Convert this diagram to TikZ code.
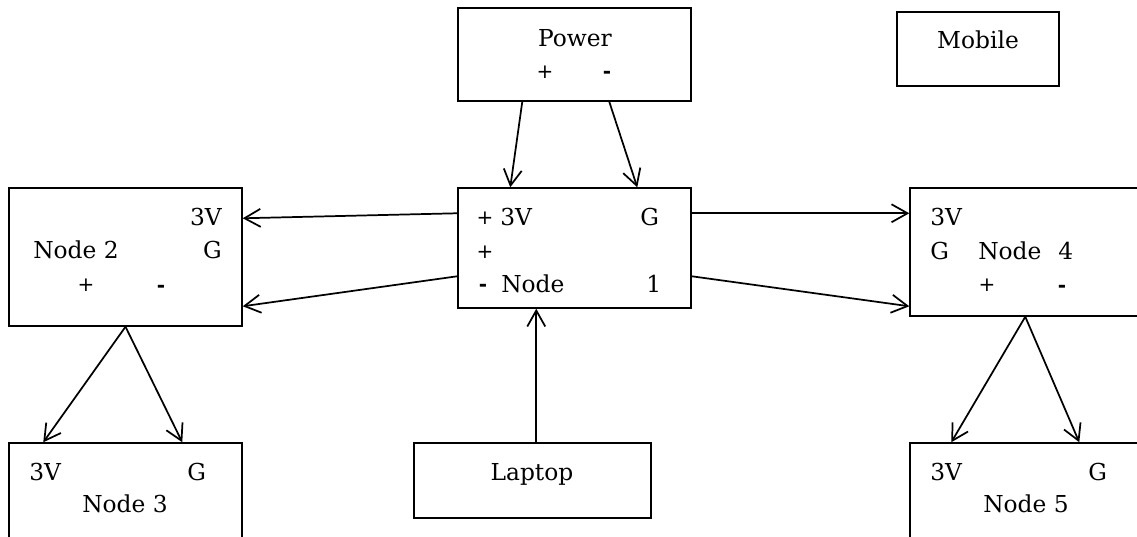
\documentclass[tikz,border=0pt]{standalone}
\usepackage{fontspec}
\setmainfont{DejaVu Serif}
\newfontfamily\pmfont{DejaVu Sans}
\usetikzlibrary{arrows.meta,fit,calc}
\tikzset{
  box/.style={draw, line width=1.1pt, inner sep=0pt},
  lbl/.style={inner sep=0pt, font=\fontsize{17.5}{21}\selectfont},
  pm/.style={inner sep=0pt, anchor=mid, font=\pmfont\fontsize{15}{18}\selectfont},
  mn/.style={inner sep=0pt, anchor=mid, font=\pmfont\bfseries\fontsize{15}{18}\selectfont},
  conn/.style={line width=1.3pt, -{Straight Barb[length=12pt,width=13.5pt,line width=1.3pt]}}
}
\begin{document}
\begin{tikzpicture}[x=0.75pt,y=-0.75pt]
\useasboundingbox (0,0) rectangle (1137,536);
% boxes
\coordinate (a1) at (458,8);   \coordinate (a2) at (691,101);
\coordinate (b1) at (897,12);  \coordinate (b2) at (1059,86);
\coordinate (c1) at (458,188); \coordinate (c2) at (691,308);
\coordinate (d1) at (9,188);   \coordinate (d2) at (242,326);
\coordinate (e1) at (910,188); \coordinate (e2) at (1150,316);
\coordinate (f1) at (9,443);   \coordinate (f2) at (242,550);
\coordinate (g1) at (910,443); \coordinate (g2) at (1150,550);
\coordinate (h1) at (414,443); \coordinate (h2) at (651,518);
\node[box, fit=(a1)(a2)] (power) {};
\node[box, fit=(b1)(b2)] (mobile) {};
\node[box, fit=(c1)(c2)] (n1) {};
\node[box, fit=(d1)(d2)] (n2) {};
\node[box, fit=(e1)(e2)] (n4) {};
\node[box, fit=(f1)(f2)] (n3) {};
\node[box, fit=(g1)(g2)] (n5) {};
\node[box, fit=(h1)(h2)] (laptop) {};
% texts
\node[lbl,anchor=base] (tpow) at (575,46) {Power};
\node[pm] (pp) at (545,75) {+};
\node[mn] (pmn) at (607,75) {-};
\node[lbl,anchor=base] (tmob) at (978,48) {Mobile};

\node[pm] (n1p1) at (485,221) {+};
\node[lbl,anchor=base west] (n1v) at (500,225) {3V};
\node[lbl,anchor=base west] (n1g) at (640,225) {G};
\node[pm] (n1p2) at (485,255) {+};
\node[mn] (n1m) at (483,288) {-};
\node[lbl,anchor=base west] (n1n) at (501,292) {Node};
\node[lbl,anchor=base west] (n1o) at (646,292) {1};

\node[lbl,anchor=base east] (n2v) at (222,225) {3V};
\node[lbl,anchor=base west] (n2n) at (33,258) {Node 2};
\node[lbl,anchor=base east] (n2g) at (222,258) {G};
\node[pm] (n2p) at (86,288) {+};
\node[mn] (n2m) at (161,289) {-};

\node[lbl,anchor=base west] (n4v) at (930,225) {3V};
\node[lbl,anchor=base west] (n4g) at (930,259) {G};
\node[lbl,anchor=base west] (n4n) at (978,259) {Node};
\node[lbl,anchor=base west] (n4f) at (1058,259) {4};
\node[pm] (n4p) at (987,288) {+};
\node[mn] (n4m) at (1062,289) {-};

\node[lbl,anchor=base west] (n3v) at (29,480) {3V};
\node[lbl,anchor=base west] (n3g) at (187,480) {G};
\node[lbl,anchor=base] (n3n) at (125,512) {Node 3};

\node[lbl,anchor=base west] (n5v) at (930,480) {3V};
\node[lbl,anchor=base west] (n5g) at (1088,480) {G};
\node[lbl,anchor=base] (n5n) at (1026,512) {Node 5};

\node[lbl,anchor=base] (tlap) at (532,480) {Laptop};
% connectors
\draw[conn] ($(power.south west)+(65,0)$) -- ($(n1.north west)+(53,0)$);
\draw[conn] ($(power.south west)+(152,0)$) -- ($(n1.north west)+(180,0)$);
\draw[conn] ($(n1.north west)+(0,26)$) -- ($(n2.north east)+(0,31)$);
\draw[conn] ($(n1.north west)+(0,89)$) -- ($(n2.north east)+(0,119)$);
\draw[conn] ($(n1.north east)+(0,26)$) -- ($(n4.north west)+(0,26)$);
\draw[conn] ($(n1.north east)+(0,89)$) -- ($(n4.north west)+(0,119)$);
\draw[conn] ($(laptop.north west)+(123,0)$) -- ($(n1.south west)+(79,0)$);
\draw[conn] (n2.south) -- ($(n3.north west)+(35,0)$);
\draw[conn] (n2.south) -- ($(n3.north west)+(174,0)$);
\draw[conn] ($(n4.south west)+(116,0)$) -- ($(n5.north west)+(42,0)$);
\draw[conn] ($(n4.south west)+(116,0)$) -- ($(n5.north west)+(170,0)$);
\end{tikzpicture}
\end{document}
